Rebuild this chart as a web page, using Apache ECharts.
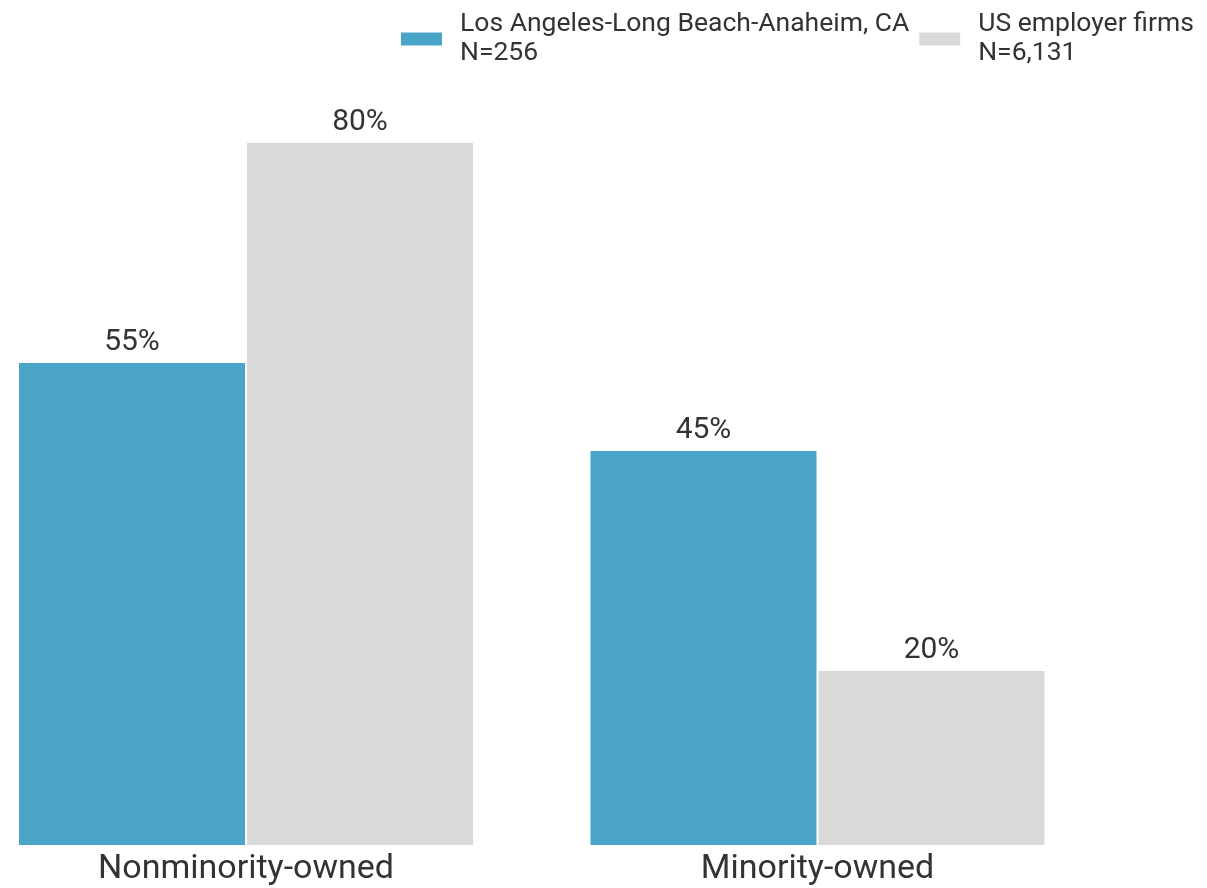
<!DOCTYPE html>
<html><head><meta charset="utf-8">
<script src="https://cdn.jsdelivr.net/npm/echarts@6/dist/echarts.min.js"></script>
<style>html,body{margin:0;padding:0;background:#fff}#c{width:1207px;height:888px}</style>
</head><body><div id="c"></div>
<script>
const categories = ['Nonminority-owned', 'Minority-owned'];
const seriesNames = ['Los Angeles-Long Beach-Anaheim, CA\nN=256', 'US employer firms\nN=6,131'];
const laValues = [55, 45];
const usValues = [80, 20];
const colors = ['#4BA5C8', '#D9D9D9'];

const chart = echarts.init(document.getElementById('c'), null, {renderer: 'canvas'});
const font = 'Roboto, "Noto Sans", sans-serif';
const label = {show: true, position: 'top', formatter: '{c}%', fontSize: 30, color: '#333', fontFamily: font, distance: 5};
chart.setOption({
  animation: false,
  legend: {
    left: 394, top: 5, itemWidth: 43, itemHeight: 15, itemGap: 8, icon: 'rect',
    textStyle: {fontSize: 26.5, color: '#333', fontFamily: font, lineHeight: 29, padding: [0, 0, 0, 12]},
    data: seriesNames
  },
  grid: {left: 246, width: 571.5, top: 142, bottom: 42, containLabel: false},
  xAxis: {
    type: 'category', data: categories, boundaryGap: false,
    axisLine: {show: false}, axisTick: {show: false},
    axisLabel: {fontSize: 34, color: '#333', fontFamily: font, margin: 6}
  },
  yAxis: {type: 'value', min: 0, max: 80, show: false, splitLine: {show: false}},
  series: [
    {name: seriesNames[0], type: 'bar', data: laValues, barGap: '0%', barWidth: 228,
     itemStyle: {color: colors[0], borderColor: '#fff', borderWidth: 1}, label: label},
    {name: seriesNames[1], type: 'bar', data: usValues, barWidth: 228,
     itemStyle: {color: colors[1], borderColor: '#fff', borderWidth: 1}, label: label}
  ]
});
</script></body></html>
